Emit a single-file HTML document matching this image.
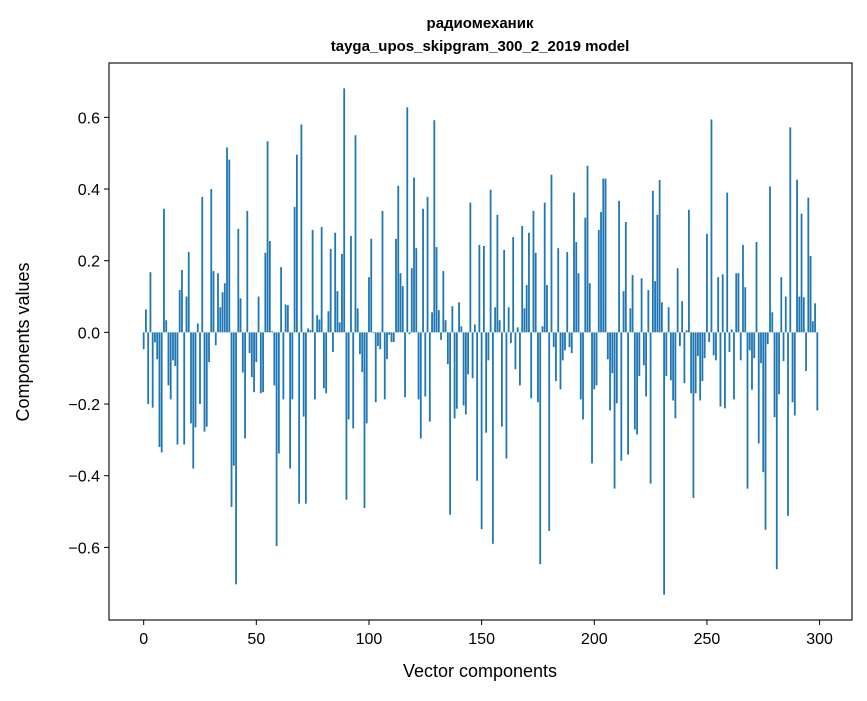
<!DOCTYPE html>
<html><head><meta charset="utf-8"><style>
body{margin:0;background:#fff;}
svg text{font-family:"Liberation Sans","DejaVu Sans",sans-serif;fill:#000;}
</style></head><body>
<svg id="chart" width="867" height="696" xmlns="http://www.w3.org/2000/svg">
<rect width="867" height="696" fill="#fff"/>
<text x="480" y="28" font-size="15" font-weight="bold" text-anchor="middle">радиомеханик</text>
<text x="480" y="51" font-size="15" font-weight="bold" text-anchor="middle">tayga_upos_skipgram_300_2_2019 model</text>
<g id="bars"></g>
<g id="axes"></g>
<text x="480" y="677" font-size="18" text-anchor="middle">Vector components</text>
<text transform="translate(29,342) rotate(-90)" font-size="18" text-anchor="middle">Components values</text>
</svg>
<script>
const values = [
-0.047,0.064,-0.20,0.168,-0.21,-0.028,-0.075,-0.32,-0.335,0.345,
0.034,-0.148,-0.187,-0.078,-0.094,-0.313,0.118,0.174,-0.313,0.10,
0.224,-0.254,-0.38,-0.265,0.025,-0.20,0.378,-0.277,-0.263,-0.083,
0.40,0.171,-0.036,0.165,0.07,0.112,0.137,0.516,0.482,-0.487,
-0.372,-0.703,0.289,0.095,-0.112,-0.296,0.339,-0.058,-0.125,-0.167,
-0.083,0.10,-0.17,-0.167,0.222,0.533,0.255,0.003,-0.148,-0.596,
-0.338,0.182,-0.187,0.078,0.076,-0.38,-0.187,0.35,0.496,-0.478,
0.58,-0.235,-0.478,0.011,0.006,0.286,-0.187,0.048,0.036,0.294,
-0.156,-0.17,0.059,0.233,-0.055,0.278,0.115,0.028,0.219,0.681,
-0.467,-0.243,0.269,-0.268,0.55,0.067,-0.061,-0.111,-0.49,-0.254,
0.154,0.261,-0.002,-0.195,-0.038,-0.047,0.339,-0.187,-0.075,-0.007,
-0.027,-0.027,0.261,0.409,0.165,0.129,-0.181,0.628,-0.005,0.179,
0.432,0.235,-0.187,-0.296,0.345,-0.179,0.378,-0.249,0.056,0.592,
0.238,0.062,-0.021,0.171,0.034,-0.089,-0.509,0.073,-0.24,-0.213,
0.084,0.017,-0.204,-0.229,-0.117,0.362,-0.128,0.022,-0.414,0.244,
-0.549,0.241,-0.28,-0.078,0.398,-0.59,0.07,0.328,0.034,-0.263,
0.23,-0.352,0.07,-0.03,0.266,-0.103,0.014,-0.148,0.297,0.067,
0.132,0.278,-0.184,0.339,0.222,-0.195,-0.647,0.017,0.362,0.132,
-0.554,0.44,-0.041,-0.136,0.235,-0.159,-0.078,-0.05,0.224,-0.041,
-0.058,0.39,0.252,0.165,-0.187,-0.243,0.32,0.465,0.137,-0.366,
-0.159,-0.148,0.286,0.336,0.429,0.429,-0.075,-0.218,-0.114,-0.436,
-0.198,0.367,-0.358,0.115,0.308,-0.341,0.067,0.16,-0.271,-0.285,
-0.122,0.151,-0.092,-0.179,0.118,-0.422,0.395,0.143,0.328,0.425,
0.084,-0.732,-0.122,0.07,-0.134,-0.19,-0.24,0.179,-0.038,0.087,
-0.142,0.006,0.342,-0.17,-0.462,-0.17,-0.066,-0.19,-0.136,-0.072,
0.275,-0.027,0.594,-0.064,-0.078,0.154,-0.207,0.162,-0.212,0.39,
-0.055,0.008,-0.187,0.165,0.165,-0.078,0.244,0.126,-0.436,-0.05,
-0.16,-0.072,0.252,-0.31,-0.086,-0.39,-0.551,-0.033,0.407,0.056,
-0.237,-0.661,-0.173,0.154,-0.08,0.10,-0.512,0.572,-0.195,-0.232,
0.426,0.10,0.331,0.098,-0.108,0.376,0.213,0.031,0.081,-0.218
];
const xTicks = [0,50,100,150,200,250,300];
const yTicks = [-0.6,-0.4,-0.2,0.0,0.2,0.4,0.6];

const L=109,R=852,T=63,B=620;
const n=values.length;
const xmin=-0.4-0.05*(n-0.2), xmax=(n-1)+0.4+0.05*(n-0.2);
const vmin=Math.min(0,...values), vmax=Math.max(0,...values);
const pad=0.05*(vmax-vmin);
const ymin=vmin-pad, ymax=vmax+pad;
function xs(v){return L+(v-xmin)/(xmax-xmin)*(R-L);}
function ys(v){return B-(v-ymin)/(ymax-ymin)*(B-T);}
const NS="http://www.w3.org/2000/svg";
const bars=document.getElementById('bars');
values.forEach((v,i)=>{
  const r=document.createElementNS(NS,'rect');
  const x0=xs(i-0.4),x1=xs(i+0.4);
  const y0=ys(Math.max(v,0)),y1=ys(Math.min(v,0));
  r.setAttribute('x',x0);r.setAttribute('width',x1-x0);
  r.setAttribute('y',y0);r.setAttribute('height',Math.max(y1-y0,0.01));
  r.setAttribute('fill','#1f77b4');
  
  
  bars.appendChild(r);
});
const axes=document.getElementById('axes');
const frame=document.createElementNS(NS,'rect');
frame.setAttribute('x',L);frame.setAttribute('y',T);frame.setAttribute('width',R-L);frame.setAttribute('height',B-T);
frame.setAttribute('fill','none');frame.setAttribute('stroke','#000');frame.setAttribute('stroke-width','1.1');


axes.appendChild(frame);
xTicks.forEach(t=>{
  const x=xs(t);
  const l=document.createElementNS(NS,'line');
  l.setAttribute('x1',x);l.setAttribute('x2',x);l.setAttribute('y1',B);l.setAttribute('y2',B+5);l.setAttribute('stroke','#000');
  
  
  axes.appendChild(l);
  const tx=document.createElementNS(NS,'text');
  tx.setAttribute('x',x);tx.setAttribute('y',B+24);tx.setAttribute('font-size','16');tx.setAttribute('text-anchor','middle');
  tx.textContent=String(t);
  
  
  axes.appendChild(tx);
});
yTicks.forEach(t=>{
  const y=ys(t);
  const l=document.createElementNS(NS,'line');
  l.setAttribute('x1',L-5);l.setAttribute('x2',L);l.setAttribute('y1',y);l.setAttribute('y2',y);l.setAttribute('stroke','#000');
  
  
  axes.appendChild(l);
  const tx=document.createElementNS(NS,'text');
  tx.setAttribute('x',L-9);tx.setAttribute('y',y+6);tx.setAttribute('font-size','16');tx.setAttribute('text-anchor','end');
  tx.textContent=(t<0?'\u2212':'')+Math.abs(t).toFixed(1);
  
  
  axes.appendChild(tx);
});
</script>
</body></html>
